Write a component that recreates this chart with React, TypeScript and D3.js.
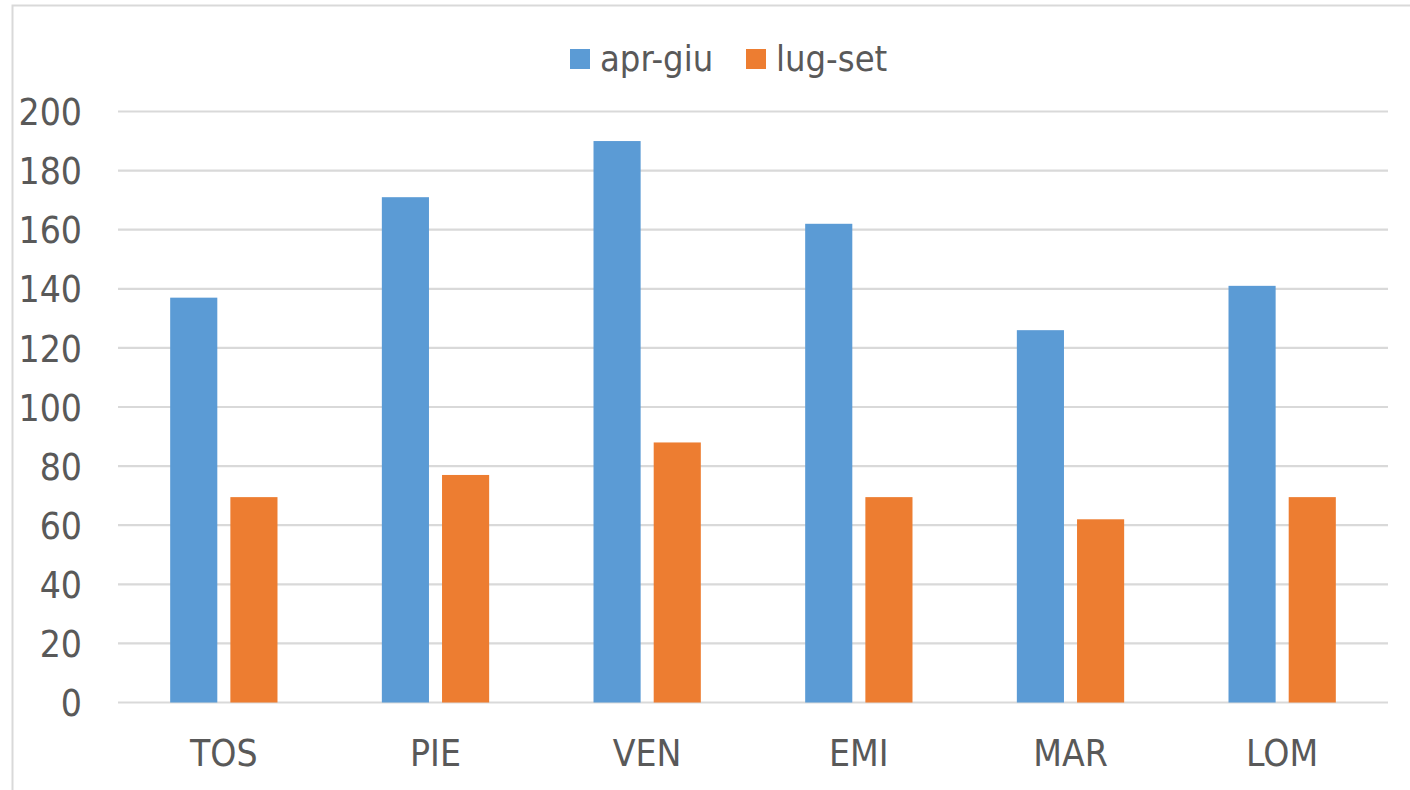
import React from "react";
import * as d3 from "d3";

const categories = ["TOS", "PIE", "VEN", "EMI", "MAR", "LOM"];
const seriesNames = ["apr-giu", "lug-set"];
const aprGiu = [137, 171, 190, 162, 126, 141];
const lugSet = [69.5, 77, 88, 69.5, 62, 69.5];
const yTicks = [0, 20, 40, 60, 80, 100, 120, 140, 160, 180, 200];
const colors = ["#5B9BD5", "#ED7D31"];

const W = 1410;
const H = 790;
const FONT = "'DejaVu Sans Condensed', 'DejaVu Sans', Tahoma, sans-serif";
const TEXT = "#595959";
const GRID = "#D9D9D9";

export default function App() {
  const x0 = d3
    .scaleBand<string>()
    .domain(categories)
    .range([118, 1388])
    .paddingInner(0.493)
    .paddingOuter(0.2465);
  const x1 = d3
    .scaleBand<string>()
    .domain(seriesNames)
    .range([0, x0.bandwidth()])
    .paddingInner(0.217)
    .paddingOuter(0);
  const y = d3.scaleLinear().domain([0, 200]).range([702.5, 111.5]);
  const series = [aprGiu, lugSet];

  return (
    <div style={{ position: "fixed", left: 0, top: 0, width: W, height: H, background: "#fff" }}>
      <svg width={W} height={H} style={{ display: "block" }} fontFamily={FONT}>
        <rect x={0} y={0} width={W} height={H} fill="#fff" />
        <rect x={12.5} y={5.5} width={W + 20} height={H + 20} fill="none" stroke={GRID} strokeWidth={2} />
        {yTicks.map((t) => (
          <g key={t}>
            <line x1={118} x2={1388} y1={y(t)} y2={y(t)} stroke={GRID} strokeWidth={2.2} />
            <text x={82} y={y(t)} dy="0.37em" textAnchor="end" fontSize={37} fill={TEXT}>
              {t}
            </text>
          </g>
        ))}
        {categories.map((c, i) => (
          <g key={c} transform={`translate(${x0(c)},0)`}>
            {seriesNames.map((s, j) => (
              <rect
                key={s}
                x={x1(s)}
                y={y(series[j][i])}
                width={x1.bandwidth()}
                height={y(0) - y(series[j][i])}
                fill={colors[j]}
              />
            ))}
            <text x={x0.bandwidth() / 2} y={766} textAnchor="middle" fontSize={37} fill={TEXT}>
              {c}
            </text>
          </g>
        ))}
        {seriesNames.map((s, j) => {
          const lx = j === 0 ? 570 : 746;
          return (
            <g key={s}>
              <rect x={lx} y={49} width={20} height={20} fill={colors[j]} />
              <text x={lx + 30} y={71} fontSize={36} fill={TEXT}>
                {s}
              </text>
            </g>
          );
        })}
      </svg>
    </div>
  );
}
